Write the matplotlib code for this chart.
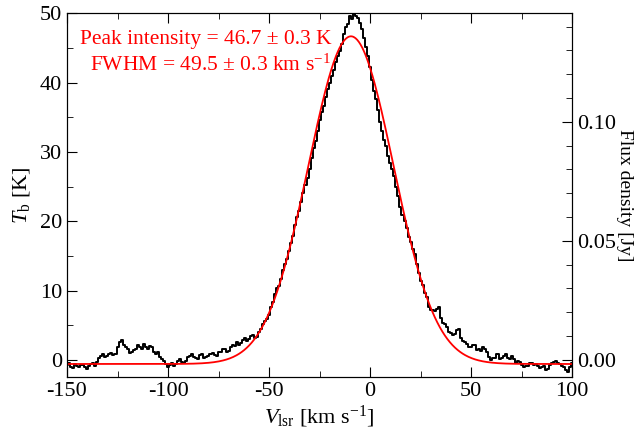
import numpy as np
import matplotlib
matplotlib.use('Agg')
import matplotlib.pyplot as plt
from matplotlib.ticker import MultipleLocator, FormatStrFormatter

plt.rcParams['font.family'] = 'Liberation Serif'
plt.rcParams['mathtext.fontset'] = 'custom'
plt.rcParams['mathtext.rm'] = 'Liberation Serif'
plt.rcParams['mathtext.it'] = 'Liberation Serif:italic'
plt.rcParams['axes.unicode_minus'] = False

# spectrum channels (km/s) and brightness temperature (K)
velocity = np.arange(-150, 101, 1)
tb = [
    -0.8, -0.5, -1.0, -1.2, -0.6, -0.9, -1.1, -0.8, -0.7, -1.0,
    -1.3, -0.9, -0.6, -0.5, -0.9, -0.3, 0.2, 0.6, 0.8, 0.4,
    0.5, 0.9, 1.0, 0.7, 0.9, 1.8, 2.6, 2.8, 2.2, 1.8,
    1.5, 1.0, 1.2, 1.4, 1.6, 2.2, 1.9, 1.6, 2.3, 1.9,
    1.5, 2.0, 1.8, 1.2, 0.9, 1.1, 0.4, 0.1, -0.2, -0.6,
    -1.0, -0.7, -0.4, -0.9, -0.6, -0.2, 0.1, -0.3, -0.5, -0.1,
    0.4, 0.6, 0.9, 0.4, 0.3, 0.1, 0.7, 0.9, 0.2, 0.4,
    0.5, 0.8, 1.0, 0.7, 0.6, 1.1, 1.2, 1.5, 1.6, 1.2,
    1.3, 1.8, 2.1, 2.0, 2.6, 2.2, 2.4, 2.8, 3.1, 2.7,
    3.0, 3.4, 3.6, 3.2, 3.3, 4.0, 4.4, 5.2, 5.6, 5.9,
    6.5, 7.6, 8.4, 9.5, 10.3, 10.7, 11.6, 12.9, 13.8, 14.6,
    15.7, 16.9, 17.9, 19.4, 20.6, 21.5, 22.8, 24.1, 25.2, 26.3,
    27.6, 29.2, 30.6, 31.6, 33.0, 34.6, 35.8, 36.7, 38.0, 39.1,
    39.9, 41.0, 41.8, 43.0, 43.9, 44.6, 45.6, 47.0, 48.1, 48.5,
    49.6, 49.2, 49.9, 49.7, 49.3, 48.6, 47.7, 46.4, 45.1, 43.8,
    42.2, 40.4, 38.8, 37.6, 36.1, 34.4, 33.0, 31.8, 30.8, 29.4,
    28.4, 27.6, 26.5, 25.0, 23.6, 22.1, 20.9, 20.1, 19.0, 17.8,
    17.0, 16.0, 15.3, 13.8, 12.6, 11.4, 10.8, 9.7, 9.0, 7.6,
    7.2, 7.2, 7.1, 7.3, 7.6, 6.0, 5.3, 5.1, 4.7, 4.0,
    3.9, 3.6, 3.7, 4.3, 4.4, 3.2, 2.7, 2.6, 2.3, 1.9,
    1.9, 2.2, 2.1, 1.4, 1.5, 1.3, 1.8, 1.6, 1.2, 0.4,
    0.0, 0.2, 0.3, 0.8, 0.1, 0.2, 0.6, 0.9, 0.2, 0.1,
    0.5, 0.1, -0.4, -0.2, -0.3, -0.8, -1.1, -0.9, -0.9, -0.5,
    -0.4, -0.7, -0.6, -0.9, -1.2, -1.0, -0.9, -1.4, -1.3, -0.8,
    -0.5, -0.3, -0.2, -0.5, -0.6, -0.9, -1.0, -1.5, -1.8, -1.0,
    -0.5,
]

# gaussian fit parameters
peak = 46.7
fwhm = 49.5
center = -9.5
baseline = -0.6
k_to_jy = 0.00291

vfit = np.linspace(-150, 100, 600)
sigma = fwhm / (2 * np.sqrt(2 * np.log(2)))
fit = baseline + (peak - baseline) * np.exp(-(vfit - center) ** 2 / (2 * sigma ** 2))

fig = plt.figure(figsize=(6.38, 4.34), dpi=100)
ax = fig.add_axes([0.105, 0.131, 0.792, 0.838])
ax.plot(velocity, tb, drawstyle='steps-mid', color='black', lw=1.4)
ax.plot(vfit, fit, color='red', lw=1.3)

ax.set_xlim(-150, 100)
ax.set_ylim(-2.5, 50)
ax.xaxis.set_major_locator(MultipleLocator(50))
ax.xaxis.set_minor_locator(MultipleLocator(25))
ax.yaxis.set_major_locator(MultipleLocator(10))
ax.yaxis.set_minor_locator(MultipleLocator(5))
ax.tick_params(which='both', direction='in', top=True, right=False, labelsize=16)
ax.tick_params(which='major', length=7)
ax.tick_params(which='minor', length=4)
ax.set_xlabel(r'$V_{\rm lsr}$ [km ${\rm s}^{-1}$]', fontsize=16, labelpad=2)
ax.set_ylabel(r'$T_{\rm b}$ [K]', fontsize=16, labelpad=6)

ax2 = ax.twinx()
ax2.set_ylim(-2.5 * k_to_jy, 50 * k_to_jy)
ax2.yaxis.set_major_locator(MultipleLocator(0.05))
ax2.yaxis.set_minor_locator(MultipleLocator(0.01))
ax2.tick_params(which='both', direction='in', labelsize=16)
ax2.tick_params(which='major', length=7)
ax2.tick_params(which='minor', length=4)
ax2.yaxis.set_major_formatter(FormatStrFormatter('%.2f'))
ax2.set_ylabel('Flux density [Jy]', fontsize=14, rotation=270, labelpad=12)

ax.text(0.523, 0.955, 'Peak intensity = 46.7 \u00b1 0.3 K', color='red', fontsize=15.5,
        ha='right', va='top', transform=ax.transAxes)
ax.text(0.523, 0.888, r'FWHM = 49.5 $\pm$ 0.3 km ${\rm s}^{-1}$', color='red', fontsize=15.5,
        ha='right', va='top', transform=ax.transAxes)

fig.savefig('out.png', dpi=100)
